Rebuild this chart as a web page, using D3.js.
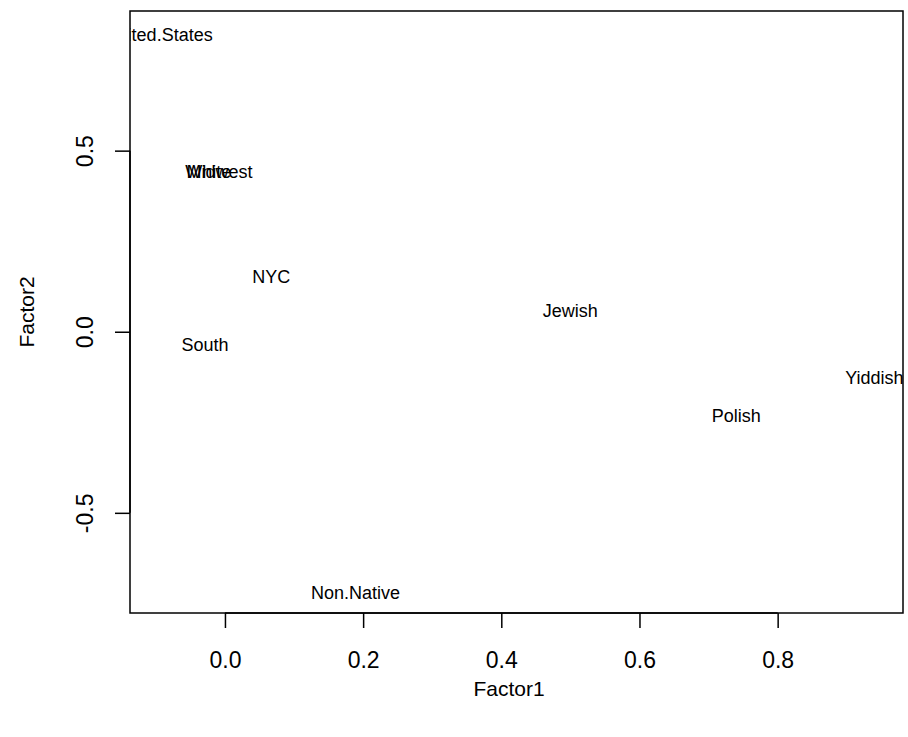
<!DOCTYPE html>
<html>
<head>
<meta charset="utf-8">
<script src="https://cdn.jsdelivr.net/npm/d3@7"></script>
<style>
  html, body { margin: 0; padding: 0; background: #fff; }
  svg { display: block; font-family: "Liberation Sans", Arial, Helvetica, sans-serif; }
</style>
</head>
<body>
<svg id="chart" width="908" height="737"></svg>
<script>
// Factor loadings: each variable is placed by its Factor1 / Factor2 score
const labels  = ["United.States", "White", "Midwest", "NYC", "South", "Jewish", "Polish", "Yiddish", "Non.Native"];
const factor1 = [-0.096, -0.024, -0.008, 0.067, -0.029, 0.500, 0.740, 0.940, 0.189];
const factor2 = [ 0.824,  0.447,  0.446, 0.156, -0.032, 0.064, -0.226, -0.123, -0.715];

const xTicks = [0.0, 0.2, 0.4, 0.6, 0.8];
const yTicks = [-0.5, 0.0, 0.5];
const xTitle = "Factor1";
const yTitle = "Factor2";

const W = 908, H = 737;
const plot = { left: 130, right: 903, top: 11, bottom: 613 };

// Axis ranges padded by 4% on each side
function padded(vals) {
  const [lo, hi] = d3.extent(vals);
  const d = (hi - lo) * 0.04;
  return [lo - d, hi + d];
}

const x = d3.scaleLinear().domain(padded(factor1)).range([plot.left, plot.right]);
const y = d3.scaleLinear().domain(padded(factor2)).range([plot.bottom, plot.top]);

// one decimal, plain hyphen for negatives
const fmt = v => d3.format(".1f")(v).replace("\u2212", "-");

const svg = d3.select("#chart");

svg.append("defs").append("clipPath").attr("id", "plotclip")
  .append("rect")
  .attr("x", plot.left).attr("y", plot.top)
  .attr("width", plot.right - plot.left).attr("height", plot.bottom - plot.top);

// Point labels
const pts = labels.map((l, i) => ({ label: l, f1: factor1[i], f2: factor2[i] }));
svg.append("g").attr("clip-path", "url(#plotclip)")
  .selectAll("text").data(pts).join("text")
  .attr("x", d => x(d.f1))
  .attr("y", d => y(d.f2))
  .attr("dy", "0.45em")
  .attr("text-anchor", "middle")
  .attr("font-size", 18)
  .attr("fill", "#000")
  .text(d => d.label);

// Box
svg.append("rect")
  .attr("x", plot.left).attr("y", plot.top)
  .attr("width", plot.right - plot.left).attr("height", plot.bottom - plot.top)
  .attr("fill", "none").attr("stroke", "#000").attr("stroke-width", 1.5);

// Bottom axis
const xAxis = d3.axisBottom(x).tickValues(xTicks).tickFormat(fmt)
  .tickSize(15).tickPadding(24);
const gx = svg.append("g").attr("transform", `translate(0,${plot.bottom})`).call(xAxis);
gx.select(".domain").attr("d", `M${x(xTicks[0])},0H${x(xTicks[xTicks.length - 1])}`)
  .attr("stroke-width", 1.5);
gx.selectAll(".tick line").attr("stroke-width", 1.5);
gx.selectAll(".tick text").attr("font-size", 23).attr("font-family", null).attr("fill", "#000");

// Left axis, labels rotated as in base graphics
const yAxis = d3.axisLeft(y).tickValues(yTicks).tickFormat(fmt)
  .tickSize(15).tickPadding(18);
const gy = svg.append("g").attr("transform", `translate(${plot.left},0)`).call(yAxis);
gy.select(".domain").attr("d", `M0,${y(yTicks[0])}V${y(yTicks[yTicks.length - 1])}`)
  .attr("stroke-width", 1.5);
gy.selectAll(".tick line").attr("stroke-width", 1.5);
gy.selectAll(".tick text")
  .attr("font-size", 23).attr("font-family", null).attr("fill", "#000")
  .attr("x", null).attr("dy", null)
  .attr("text-anchor", "middle")
  .attr("transform", "translate(-37,0) rotate(-90)")
  .attr("y", 0);

// Axis titles
svg.append("text")
  .attr("x", 509).attr("y", 696)
  .attr("text-anchor", "middle").attr("font-size", 21).text(xTitle);

svg.append("text")
  .attr("transform", `translate(34,${(plot.top + plot.bottom) / 2}) rotate(-90)`)
  .attr("text-anchor", "middle").attr("font-size", 21).text(yTitle);
</script>
</body>
</html>
